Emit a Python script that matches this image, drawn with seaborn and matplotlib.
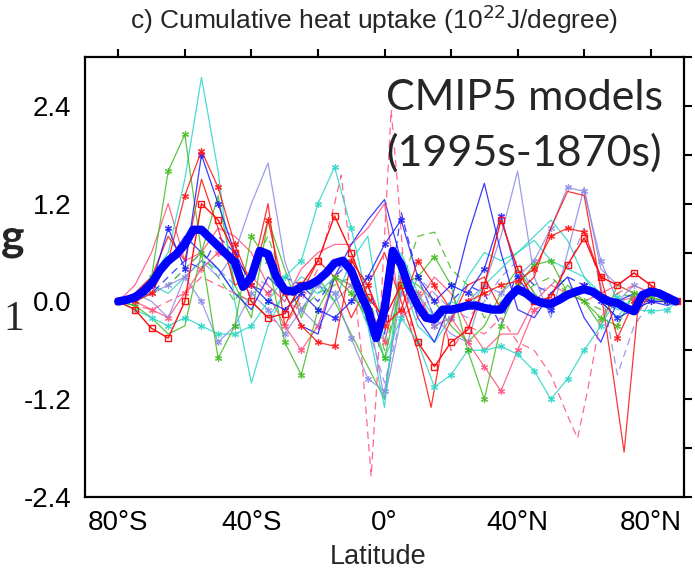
import numpy as np
import pandas as pd
import matplotlib
matplotlib.use("Agg")
import matplotlib.pyplot as plt
import seaborn as sns

# ---------------- data ----------------
LAT5 = [-80, -75, -70, -65, -60, -55, -50, -45, -40, -35, -30, -25, -20, -15, -10, -5,
        0, 5, 10, 15, 20, 25, 30, 35, 40, 45, 50, 55, 60, 65, 70, 75, 80, 85, 88]

cyan_a = [0.0, 0.1, 0.3, 0.6, 1.5, 2.75, 1.6, 0.0, -1.0, -0.3, 0.1, 0.2, 0.1, 0.3, 0.2, -0.3,
          -1.3, 0.6, 0.1, -0.2, 0.0, -0.1, 0.2, 0.4, 0.6, 0.75, 0.5, 0.4, 0.3, 0.1, -0.1, -0.1, 0.0, 0.05, 0.0]
green_x = [0.0, -0.05, 0.3, 1.6, 2.05, 0.6, -0.7, -0.3, 0.8, 0.5, -0.5, -0.9, -0.1, 0.3, 0.1, -0.2,
           -0.7, 0.2, 0.3, 0.55, 0.2, -0.6, -1.2, -0.3, 0.2, 0.45, 0.5, 0.1, 0.0, -0.2, -0.3, 0.1, 0.05, 0.0, 0.0]
red_sq = [0.0, -0.1, -0.33, -0.45, 0.0, 1.2, 1.0, 0.6, 0.0, -0.2, -0.15, 0.2, 0.5, 1.05, 0.6, 0.05,
          -0.2, 0.2, -0.5, -0.8, -0.5, -0.35, 0.2, 1.0, 0.4, 0.0, 0.05, 0.45, 0.78, 0.3, 0.2, 0.35, 0.2, 0.05, 0.0]
red_x = [0.0, 0.0, 0.1, 0.5, 1.3, 1.85, 1.4, 0.7, 0.2, 1.0, 0.1, -0.3, -0.5, -0.55, 0.5, 0.2,
         -0.3, -0.1, 0.5, 0.2, -0.1, 0.0, 0.1, 0.2, 0.25, 0.4, 0.8, 0.9, 0.85, 0.3, -0.45, 0.0, 0.15, 0.05, 0.0]
blue_x = [0.0, 0.05, 0.2, 0.9, 0.4, 1.8, 1.2, 0.6, 0.2, 0.0, -0.1, 0.1, -0.1, -0.2, 0.0, 0.3,
          0.7, 1.0, 0.3, 0.0, 0.2, 0.1, 0.4, 1.05, 0.3, 0.0, -0.1, 0.1, 0.2, 0.0, -0.2, -0.1, 0.0, 0.0, 0.0]
blue_solid = [0.0, 0.1, 0.3, 0.5, 0.8, 0.6, 0.4, 0.1, -0.1, 0.3, 0.1, -0.3, -0.4, 0.3, 0.7, 1.0,
              1.25, 0.5, -0.2, -0.5, 0.0, 0.8, 1.45, 0.6, -0.1, -0.2, 0.1, 0.3, -0.2, -0.5, 0.0, 0.1, 0.0, -0.05, 0.0]
lav_solid = [0.0, 0.1, 0.0, -0.2, 0.3, 0.5, 0.3, 0.6, 1.2, 1.7, 0.5, -0.1, -0.3, 0.0, 0.2, -0.1,
             -1.2, -0.2, 0.3, -0.2, -0.4, -0.5, 0.2, 0.8, 1.6, 0.3, -0.2, 0.6, 1.4, 0.4, 0.2, 0.35, 0.2, 0.05, 0.0]
lav_x = [0.0, 0.0, 0.1, 0.2, 0.3, 0.0, -0.5, -0.3, 0.1, -0.1, -0.4, -0.1, 0.2, 0.1, -0.45, -0.95,
         -1.1, 0.1, -0.1, -0.3, -0.2, 0.0, 0.2, 0.1, 0.3, 0.5, 0.9, 1.4, 1.35, 0.5, 0.0, 0.2, 0.1, 0.0, 0.0]
salmon_solid = [0.0, 0.2, 0.6, 1.2, 0.5, 0.6, 0.9, 0.8, 0.6, 0.2, 0.0, 0.4, 0.6, 0.7, 0.7, 0.9,
                1.2, -0.2, 0.0, 0.3, 0.1, -0.3, -0.6, -0.4, -0.4, 0.0, 0.2, 0.1, 0.0, 0.1, 0.2, 0.1, 0.05, 0.0, 0.0]
salmon_x = [0.0, 0.0, -0.1, -0.2, 0.1, 0.4, 0.6, 0.5, 0.3, 0.1, -0.3, -0.6, -0.3, 0.3, 0.2, 0.0,
            -0.5, 0.3, 0.1, -0.3, -0.2, -0.5, -0.8, -1.1, -0.6, -0.1, 0.0, 0.1, 0.2, 0.1, 0.0, 0.05, 0.0, 0.0, 0.0]
cyan_x = [0.0, -0.1, -0.2, -0.3, -0.2, -0.3, -0.4, -0.4, -0.3, 0.0, 0.3, 0.5, 1.2, 1.65, 0.9, 0.0,
          -0.7, -0.2, -0.5, -1.05, -0.9, -0.6, -0.6, -0.55, -0.65, -0.85, -1.2, -0.95, -0.6, -0.3, 0.05, -0.1, -0.12, -0.1, 0.0]
green_dashed = [0.0, 0.0, 0.1, 0.2, 0.4, 0.6, 0.3, 0.0, 0.4, 0.8, 0.2, -0.1, 0.1, 0.2, 0.3, 0.1,
                -0.6, 0.2, 0.8, 0.85, 0.4, 0.2, -0.2, 0.0, 0.1, 0.2, 0.3, 0.1, 0.0, -0.1, 0.1, 0.05, 0.0, 0.0, 0.0]
green_solid = [0.0, -0.05, -0.2, -0.4, -0.3, 0.6, 1.3, 0.2, -0.2, 1.0, 0.4, -0.2, 0.3, 0.0, -0.4, -0.8,
               -1.2, 0.3, 0.2, 0.0, -0.3, -0.5, -0.3, 0.1, 0.4, 0.1, -0.1, 0.2, 0.0, -0.3, 0.2, 0.1, 0.0, 0.0, 0.0]
cyan_b = [0.0, 0.1, 0.2, 0.1, 0.3, 0.5, 0.4, 0.1, 0.0, -0.2, 0.1, 0.3, 0.2, 0.0, 0.5, 0.8,
          -0.5, 0.3, -0.3, -0.5, -0.2, 0.3, 0.6, 0.5, 0.6, 0.8, 1.0, 0.75, 0.3, 0.0, -0.2, 0.1, 0.05, 0.0, 0.0]
lav_dashed = [0.0, 0.05, 0.1, 0.2, 0.4, 0.6, 0.4, 0.2, 0.3, 0.2, 0.0, -0.1, 0.2, 0.5, 0.3, -0.3,
              -1.0, -0.2, 0.3, 0.1, -0.1, -0.2, 0.0, 0.3, 0.5, 0.1, 0.2, 0.4, 0.9, 0.2, -0.9, -0.3, 0.0, 0.0, 0.0]
blue_dashed = [0.0, 0.05, 0.1, 0.3, 0.5, 0.4, 0.8, 0.6, 0.2, 0.1, 0.3, 0.2, 0.0, 0.3, 0.5, 0.2,
               -0.4, 1.1, 0.3, -0.2, 0.0, 0.2, 0.1, -0.3, 0.4, 0.2, 0.1, 0.3, 0.2, 0.0, -0.1, 0.0, 0.0, 0.0, 0.0]

LAT_PD = [-80, -70, -60, -55, -50, -45, -40, -35, -30, -25, -20, -15, -13, -10, -7, -4, -2, 0, 2, 4,
          6, 8, 10, 15, 20, 25, 30, 35, 40, 45, 50, 55, 58, 61, 65, 70, 75, 80, 85, 88]
pink_dashed = [0.0, -0.1, 0.1, 0.3, 0.2, 0.1, 0.0, -0.2, -0.3, 0.0, 0.4, 1.2, 1.55, 0.5, -0.6, -2.15, -0.8, 0.8, 2.35, 1.4,
               0.3, -0.3, -0.2, 0.2, -0.6, -0.3, -0.4, -0.2, -0.5, -0.6, -0.9, -1.4, -1.68, -1.1, -0.2, 0.1, 0.2, 0.1, 0.0, 0.0]

LAT_RS = [-80, -75, -70, -65, -60, -55, -50, -45, -40, -35, -30, -25, -20, -15, -10, -5, 0, 5, 10, 14,
          18, 25, 30, 35, 40, 45, 50, 55, 60, 64, 68, 72, 76, 80, 85, 88]
red_solid = [0.0, 0.1, 0.3, 0.8, 0.5, 1.5, 0.9, 0.2, 0.3, 1.2, -0.3, 0.1, 0.5, 0.3, -0.2, 0.2, 0.6, 0.0, -0.6, -1.3,
             -0.4, 0.2, 0.3, -0.1, 0.1, 0.3, 0.9, 1.35, 1.3, 0.4, -0.7, -1.85, -0.15, 0.1, 0.05, 0.0]

LAT_MEAN = [-80 + 2.5 * i for i in range(68)]
ens_mean = [0.00, 0.02, 0.05, 0.12, 0.22, 0.38, 0.50, 0.58, 0.70, 0.88, 0.88, 0.78, 0.68, 0.58, 0.48, 0.18,
            0.30, 0.62, 0.58, 0.30, 0.14, 0.12, 0.18, 0.20, 0.26, 0.35, 0.47, 0.50, 0.38, 0.12, -0.10, -0.45,
            -0.10, 0.62, 0.45, 0.15, -0.05, -0.20, -0.22, -0.10, -0.10, -0.08, -0.05, -0.05, -0.08, -0.10,
            -0.10, 0.05, 0.15, 0.10, 0.02, -0.02, -0.03, 0.02, 0.08, 0.12, 0.15, 0.12, 0.05, 0.00, -0.02,
            -0.08, -0.12, 0.08, 0.12, 0.10, 0.05, 0.00]

XTICKS = [-80, -60, -40, -20, 0, 20, 40, 60, 80]
XTICKLABELS = ["80°S", "", "40°S", "", "0°", "", "40°N", "", "80°N"]
YTICKS = [-2.4, -1.8, -1.2, -0.6, 0.0, 0.6, 1.2, 1.8, 2.4, 3.0]
YTICKLABELS = ["-2.4", "", "-1.2", "", "0.0", "", "1.2", "", "2.4", ""]

# ---------------- styles ----------------
RED = "#ff1010"
PINK = "#ff4f7b"
GREEN = "#44bb22"
CYAN = "#2ad6c6"
BLUE = "#1a1aff"
LAV = "#8c8ce6"
AST = (6, 2, 0)

styles = [
    (LAT5, cyan_b, CYAN, "-", None),
    (LAT5, blue_dashed, BLUE, "--", None),
    (LAT5, lav_dashed, LAV, "--", None),
    (LAT5, green_solid, GREEN, "-", None),
    (LAT5, green_dashed, GREEN, "--", None),
    (LAT5, salmon_solid, PINK, "-", None),
    (LAT5, salmon_x, PINK, "-", AST),
    (LAT5, lav_solid, LAV, "-", None),
    (LAT5, lav_x, LAV, "-", AST),
    (LAT5, blue_solid, BLUE, "-", None),
    (LAT5, cyan_a, CYAN, "-", None),
    (LAT_RS, red_solid, RED, "-", None),
    (LAT_PD, pink_dashed, PINK, "--", None),
    (LAT5, cyan_x, CYAN, "-", AST),
    (LAT5, green_x, GREEN, "-", AST),
    (LAT5, blue_x, BLUE, "-", AST),
    (LAT5, red_x, RED, "-", AST),
    (LAT5, red_sq, RED, "-", "s"),
]

sns.set_style("white")
plt.rcParams["font.family"] = ["Liberation Sans", "DejaVu Sans"]

fig = plt.figure(figsize=(6.95, 5.71), dpi=100)
ax = fig.add_axes([85 / 695, 74 / 571, 599 / 695, 440 / 571])

for lat, vals, col, ls, mk in styles:
    kw = dict(color=col, linestyle=ls, lw=0.9, alpha=0.85, estimator=None, sort=False)
    if mk is not None:
        kw.update(marker=mk, markeredgecolor=col, markeredgewidth=0.9)
        if mk == "s":
            kw.update(markersize=4.5, markerfacecolor="none", lw=1.0, alpha=1.0, markeredgewidth=1.0)
        else:
            kw.update(markersize=5)
    if ls == "--":
        kw.update(dashes=(6, 4))
        kw.pop("linestyle")
    sns.lineplot(x=lat, y=vals, ax=ax, **kw)

sns.lineplot(x=LAT_MEAN, y=ens_mean, ax=ax, color="#0000ff", lw=6, estimator=None,
             sort=False, solid_capstyle="round", solid_joinstyle="round", zorder=10)

ax.set_xlim(-90, 90)
ax.set_ylim(-2.4, 3.0)
ax.set_xticks(XTICKS)
ax.set_xticklabels(XTICKLABELS)
ax.set_yticks(YTICKS)
ax.set_yticklabels(YTICKLABELS)
ax.tick_params(direction="out", top=True, right=True, length=6, width=1.5,
               labelsize=20, pad=3, colors="black")
ax.tick_params(axis="y", pad=4)
for s in ax.spines.values():
    s.set_visible(True)
    s.set_linewidth(1.6)
    s.set_color("black")
ax.set_xlabel("")
ax.set_ylabel("")

fig.text(374 / 695, 1 - 19 / 571, "c) Cumulative heat uptake (10$^{22}$J/degree)",
         ha="center", va="center", fontsize=19)
fig.text(378 / 695, 1 - 557 / 571, "Latitude", ha="center", va="center", fontsize=19.5)

fig.text(386 / 695, 1 - 110 / 571, "CMIP5 models", ha="left", va="baseline",
         fontsize=31, family=["Lato", "DejaVu Sans"])
fig.text(386 / 695, 1 - 166 / 571, "(1995s-1870s)", ha="left", va="baseline",
         fontsize=31, family=["Lato", "DejaVu Sans"])

# fragments of the neighbouring panel's labels at the left edge
fig.text(1 / 695, 1 - 238 / 571, "g", ha="left", va="center", fontsize=32,
         fontweight="bold", family=["Lato", "DejaVu Sans"])
fig.text(3 / 695, 1 - 320 / 571, "1", ha="left", va="center", fontsize=30,
         family=["Liberation Serif", "DejaVu Serif"])

fig.savefig("out.png", dpi=100)
